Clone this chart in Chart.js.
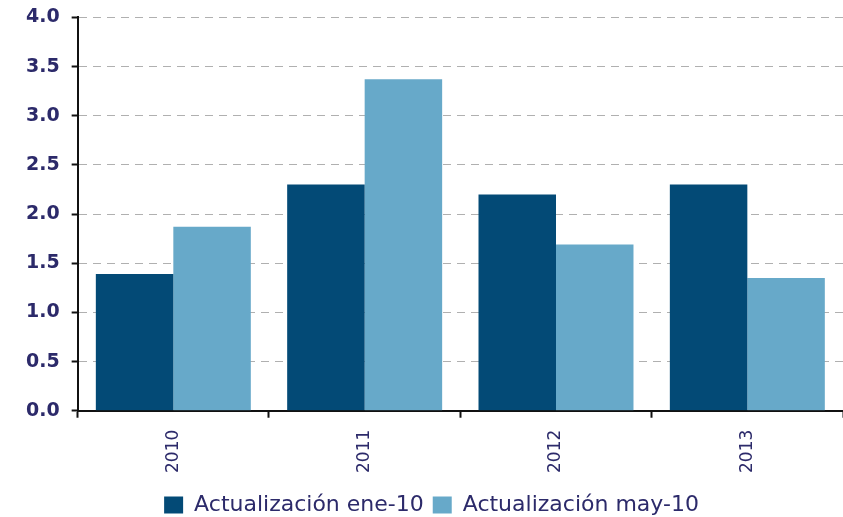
<!DOCTYPE html>
<html>
<head>
<meta charset="utf-8">
<script src="https://cdn.jsdelivr.net/npm/chart.js@4/dist/chart.umd.min.js"></script>
<style>
  html, body { margin: 0; padding: 0; background: #fff; overflow: hidden; }
  #wrap { width: 843px; height: 523px; margin-top: -6px; position: relative; }
</style>
</head>
<body>
<div id="wrap"><canvas id="chart"></canvas></div>
<script>
// ── Data ─────────────────────────────────────────────────────────────
const years     = ['2010', '2011', '2012', '2013'];
const seriesEne = [1.39, 2.30, 2.20, 2.30];
const seriesMay = [1.87, 3.37, 1.69, 1.35];
const labelEne  = 'Actualización ene-10';
const labelMay  = 'Actualización may-10';

const COLORS = {
  dark:  '#034a76',
  light: '#67a9c9',
  text:  '#2c2a6a',
  grid:  '#b0b0b0',
  axis:  '#111111',
};

const FONT = 'DejaVu Sans, Verdana, sans-serif';

new Chart(document.getElementById('chart'), {
  type: 'bar',
  data: {
    labels: years,
    datasets: [
      { label: labelEne, data: seriesEne, backgroundColor: COLORS.dark },
      { label: labelMay, data: seriesMay, backgroundColor: COLORS.light },
    ],
  },
  options: {
    responsive: true,
    maintainAspectRatio: false,
    animation: false,
    layout: { padding: { left: 14, right: -6, top: -4, bottom: -9 } },
    datasets: { bar: { categoryPercentage: 0.81, barPercentage: 1.0, borderWidth: 0 } },
    plugins: {
      tooltip: { enabled: false },
      legend: {
        position: 'bottom',
        labels: {
          color: COLORS.text,
          font: { family: FONT, size: 22 },
          boxWidth: 19, boxHeight: 17,
          padding: 9,
        },
      },
    },
    scales: {
      x: {
        grid: { drawOnChartArea: false, drawTicks: true, tickLength: 7, tickColor: COLORS.axis, tickWidth: 2 },
        border: { color: COLORS.axis, width: 2 },
        ticks: {
          color: COLORS.text,
          font: { family: FONT, size: 17 },
          minRotation: 90, maxRotation: 90,
          padding: 12,
        },
      },
      y: {
        min: 0, max: 4,
        grid: { color: COLORS.grid, lineWidth: 1, tickColor: COLORS.axis, tickLength: 6, tickWidth: 2 },
        border: { color: COLORS.axis, width: 2, dash: [8, 6] },
        ticks: {
          stepSize: 0.5,
          color: COLORS.text,
          font: { family: FONT, size: 19, weight: 'bold' },
          padding: 12,
          callback: v => v.toFixed(1),
        },
      },
    },
  },
});
</script>
</body>
</html>
